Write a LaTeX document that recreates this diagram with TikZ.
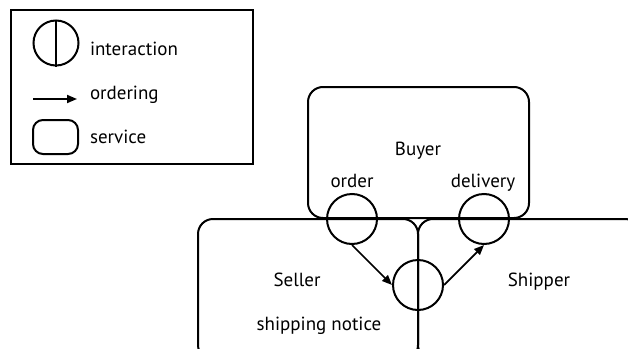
\documentclass[tikz,border=0pt]{standalone}
\usepackage{fontspec}
\setmainfont{PT Sans}
\usetikzlibrary{arrows.meta}

\begin{document}
\begin{tikzpicture}[x=1pt, y=-1pt, line width=2pt,
    svc/.style={draw, rectangle, rounded corners=15pt, inner sep=0pt},
    act/.style={draw, circle, minimum size=50pt, inner sep=0pt},
    lbl/.style={font=\fontsize{19}{22}\selectfont, inner sep=0pt},
    ord/.style={-{Triangle[length=10pt, width=8pt]}, line width=1.75pt}]
  \useasboundingbox (0,0) rectangle (628,348);
  \clip (0,0) rectangle (628,348);

  % legend
  \node[draw, rectangle, minimum width=242pt, minimum height=154pt, inner sep=0pt] (legend) at (132,87) {};
  \node[act, minimum size=45pt] (ia) at (56,43) {};
  \draw (ia.north) -- (ia.south);
  \node[lbl, anchor=base west] (iatext) at (89,55) {interaction};
  \coordinate (orda) at (33,99);
  \coordinate (ordb) at (77,99);
  \draw[ord] (orda) -- (ordb);
  \node[lbl, anchor=base west] (ordtext) at (89,99) {ordering};
  \node[svc, rounded corners=10pt, minimum width=45pt, minimum height=34pt] (sv) at (55.5,137) {};
  \node[lbl, anchor=base west] (svtext) at (89,143) {service};

  % services
  \node[svc, minimum width=221pt, minimum height=131pt] (buyer) at (418.5,152.5) {};
  \node[svc, minimum width=220pt, minimum height=141pt] (seller) at (308,289.5) {};
  \node[svc, minimum width=222pt, minimum height=141pt] (shipper) at (529,289.5) {};
  \node[lbl, anchor=base] (buyertext) at (418,155) {Buyer};
  \node[lbl, anchor=base] (sellertext) at (297,286) {Seller};
  \node[lbl, anchor=base] (shippertext) at (539,286) {Shipper};

  % interactions
  \node[act] (order) at (352,219) {};
  \node[act] (delivery) at (484,219) {};
  \node[act] (notice) at (418,285) {};
  \node[lbl, anchor=base] (ordertext) at (352,187) {order};
  \node[lbl, anchor=base] (deliverytext) at (483,187) {delivery};
  \node[lbl, anchor=base] (noticetext) at (319,330) {shipping notice};

  \draw[ord] (order.south) -- (notice.west);
  \draw[ord] (notice.east) -- (delivery.south);
\end{tikzpicture}
\end{document}
